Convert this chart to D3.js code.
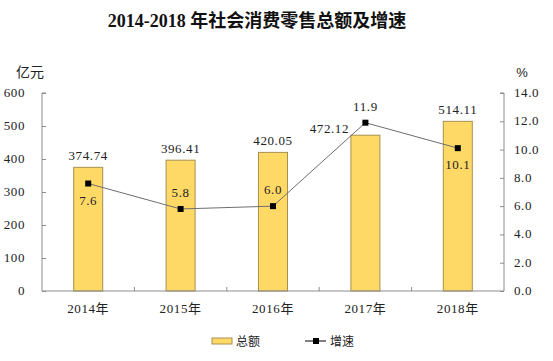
<!DOCTYPE html>
<html>
<head>
<meta charset="utf-8">
<script src="https://cdn.jsdelivr.net/npm/d3@7"></script>
<style>
  body { margin: 0; background: #fff; }
  svg { display: block; }
  .num { font-family: "Liberation Serif", "Noto Sans CJK SC", serif; font-size: 13px; fill: #222; letter-spacing: 0.6px; }
</style>
</head>
<body>
<div id="chart"></div>
<script>
// datos
anios = ['2014年', '2015年', '2016年', '2017年', '2018年']
totales = [374.74, 396.41, 420.05, 472.12, 514.11]
tasas = [7.6, 5.8, 6.0, 11.9, 10.1]
ticksIzq = [0, 100, 200, 300, 400, 500, 600]
ticksDer = [0, 2, 4, 6, 8, 10, 12, 14]
// posicion de etiquetas de la linea: arriba / abajo
posTasa = ['abajo', 'arriba', 'arriba', 'arriba', 'abajo']

ancho = 553
alto = 361
margen = { superior: 93, izquierdo: 42, derecho: 49, inferior: 70 }
anchoG = ancho - margen.izquierdo - margen.derecho
altoG = alto - margen.superior - margen.inferior

svg = d3.select('#chart').append('svg')
  .attr('width', ancho)
  .attr('height', alto)

g = svg.append('g')
  .attr('transform', `translate(${ margen.izquierdo }, ${ margen.superior })`)

x = d3.scaleBand().domain(anios).range([0, anchoG])
y = d3.scaleLinear().domain([0, 600]).range([altoG, 0])
y2 = d3.scaleLinear().domain([0, 14]).range([altoG, 0])
anchoBarra = 29

// titulo
svg.append('text')
  .attr('x', 257).attr('y', 27)
  .attr('text-anchor', 'middle')
  .style('font-family', '"Liberation Serif", "Noto Sans CJK SC", serif')
  .style('font-weight', 'bold')
  .style('font-size', '18px')
  .style('fill', '#111')
  .text('2014-2018 年社会消费零售总额及增速')

// unidades
svg.append('text').attr('x', 30).attr('y', 77).attr('text-anchor', 'middle')
  .style('font-family', '"Noto Sans CJK SC", sans-serif').style('font-size', '14px').style('fill', '#222')
  .text('亿元')
svg.append('text').attr('x', 522).attr('y', 77).attr('text-anchor', 'middle')
  .style('font-family', '"Liberation Sans", sans-serif').style('font-size', '13px').style('fill', '#222')
  .text('%')

// barras
g.selectAll('.barra').data(totales).enter().append('rect')
  .attr('class', 'barra')
  .attr('x', (d, i) => x(anios[i]) + x.bandwidth() / 2 - anchoBarra / 2)
  .attr('y', d => y(d))
  .attr('width', anchoBarra)
  .attr('height', d => altoG - y(d))
  .attr('fill', '#ffd966')
  .attr('stroke', '#a89050')
  .attr('stroke-width', 1)

g.selectAll('.etiqBarra').data(totales).enter().append('text')
  .attr('class', 'num')
  .attr('x', (d, i) => x(anios[i]) + x.bandwidth() / 2 - (i === 3 ? 36 : 0))
  .attr('y', (d, i) => y(d) - (i === 3 ? 2 : 7))
  .attr('text-anchor', 'middle')
  .text(d => d.toFixed(2))

// ejes
colorEje = '#8c8c8c'
ejeIzq = g.append('g').call(d3.axisRight(y).tickValues(ticksIzq).tickSize(4).tickFormat(''))
ejeDer = g.append('g').attr('transform', `translate(${ anchoG }, 0)`)
  .call(d3.axisLeft(y2).tickValues(ticksDer).tickSize(4).tickFormat(''))
ejeX = g.append('g').attr('transform', `translate(0, ${ altoG })`)
  .call(d3.axisTop(x).tickSize(0).tickFormat(''))
;[ejeIzq, ejeDer, ejeX].forEach(e => {
  e.selectAll('path, line').attr('stroke', colorEje)
})
ejeIzq.select('.domain').attr('d', `M4,0H0V${ altoG }`)
ejeDer.select('.domain').attr('d', `M-4,0H0V${ altoG }`)
ejeX.select('.domain').attr('d', `M0,0H${ anchoG }`)

// marcas entre categorias
g.selectAll('.sep').data(anios.slice(1)).enter().append('line')
  .attr('x1', d => x(d)).attr('x2', d => x(d))
  .attr('y1', altoG).attr('y2', altoG - 4)
  .attr('stroke', colorEje)

g.selectAll('.tickIzq').data(ticksIzq).enter().append('text')
  .attr('class', 'num')
  .attr('x', -17).attr('y', d => y(d) + 4)
  .attr('text-anchor', 'end')
  .style('font-size', '13px')
  .text(d => d)

g.selectAll('.tickDer').data(ticksDer).enter().append('text')
  .attr('class', 'num')
  .attr('x', anchoG + 10).attr('y', d => y2(d) + 4)
  .text(d => d.toFixed(1))

g.selectAll('.tickX').data(anios).enter().append('text')
  .attr('class', 'num')
  .attr('x', d => x(d) + x.bandwidth() / 2).attr('y', altoG + 22)
  .attr('text-anchor', 'middle')
  .text(d => d)

// linea de crecimiento
linea = d3.line()
  .x((d, i) => x(anios[i]) + x.bandwidth() / 2)
  .y(d => y2(d))

g.append('path').datum(tasas)
  .attr('fill', 'none')
  .attr('stroke', '#6e6e6e')
  .attr('stroke-width', 1)
  .attr('d', linea)

g.selectAll('.punto').data(tasas).enter().append('rect')
  .attr('x', (d, i) => x(anios[i]) + x.bandwidth() / 2 - 3)
  .attr('y', d => y2(d) - 3)
  .attr('width', 6).attr('height', 6)
  .attr('fill', '#000')

g.selectAll('.etiqTasa').data(tasas).enter().append('text')
  .attr('class', 'num')
  .attr('x', (d, i) => x(anios[i]) + x.bandwidth() / 2)
  .attr('y', (d, i) => posTasa[i] === 'abajo' ? y2(d) + 21 : y2(d) - 12)
  .attr('text-anchor', 'middle')
  .text(d => d.toFixed(1))

// leyenda
leyenda = svg.append('g')
leyenda.append('rect').attr('x', 212).attr('y', 338).attr('width', 20).attr('height', 6)
  .attr('fill', '#ffd966').attr('stroke', '#a89050')
leyenda.append('text').attr('x', 236).attr('y', 346)
  .style('font-family', '"Noto Sans CJK SC", sans-serif').style('font-size', '12px').style('fill', '#222')
  .text('总额')
leyenda.append('line').attr('x1', 305).attr('x2', 326).attr('y1', 341).attr('y2', 341)
  .attr('stroke', '#000')
leyenda.append('rect').attr('x', 313).attr('y', 338).attr('width', 6).attr('height', 6).attr('fill', '#000')
leyenda.append('text').attr('x', 330).attr('y', 346)
  .style('font-family', '"Noto Sans CJK SC", sans-serif').style('font-size', '12px').style('fill', '#222')
  .text('增速')
</script>
</body>
</html>
